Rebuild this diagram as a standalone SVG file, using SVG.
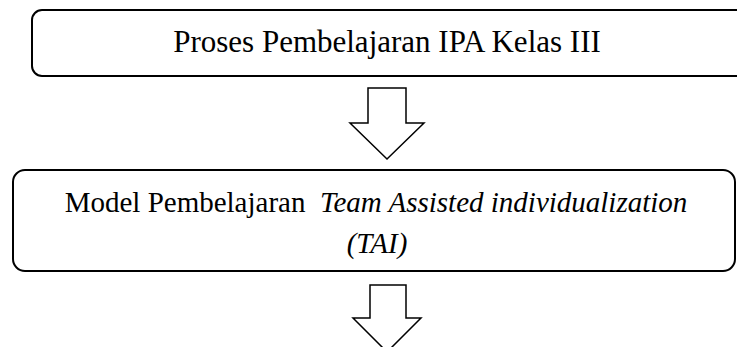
<svg xmlns="http://www.w3.org/2000/svg" width="737" height="347" viewBox="0 0 737 347">
<style>
.box{fill:#fff;stroke:#000;stroke-width:2}
.arr{fill:#fff;stroke:#000;stroke-width:1.5;stroke-linejoin:miter}
text{font-family:"Liberation Serif","Times New Roman",serif;fill:#000}
</style>
<rect width="737" height="347" fill="#fff"/>
<g id="node1">
<rect class="box" x="32" y="10" width="730" height="66" rx="10"/>
<text x="387" y="52" font-size="31" text-anchor="middle">Proses Pembelajaran IPA Kelas III</text>
</g>
<g id="node2">
<rect class="box" x="13" y="170" width="722" height="101" rx="12"/>
<text x="376" y="212" font-size="29" text-anchor="middle" xml:space="preserve">Model Pembelajaran  <tspan font-style="italic">Team Assisted individualization</tspan></text>
<text x="377" y="253" font-size="29" text-anchor="middle" font-style="italic">(TAI)</text>
</g>
<g id="connectors">
<polygon class="arr" points="368,88 406,88 406,123 424,123 387,159 350,123 368,123"/>
<polygon class="arr" points="370,285 406,285 406,318 421,318 387,352 353,318 370,318"/>
</g>
</svg>
